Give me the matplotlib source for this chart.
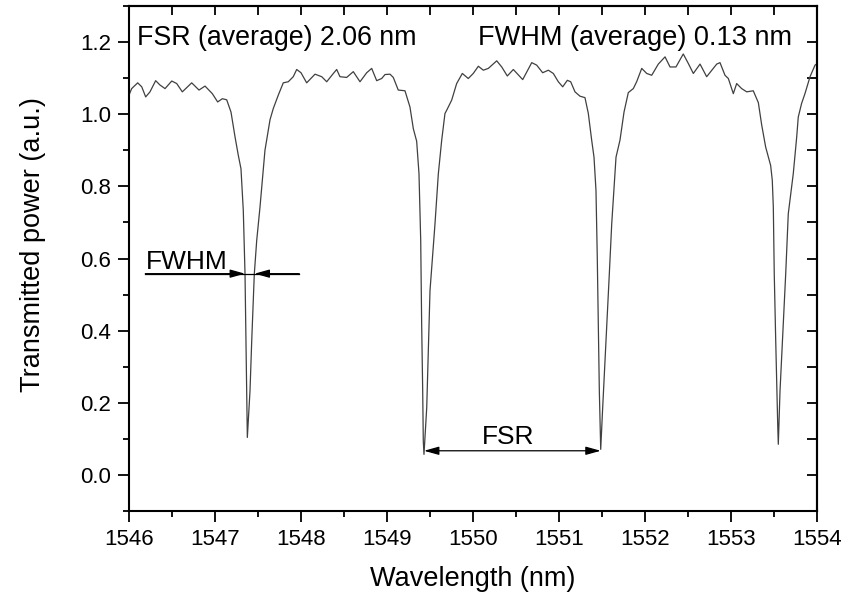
# transmission spectrum of the ring with FSR / FWHM marks

import numpy as np
import matplotlib.pyplot as plt
from matplotlib.ticker import MultipleLocator, FormatStrFormatter, NullFormatter

plt.rcParams['font.family'] = ['Liberation Sans', 'DejaVu Sans']

wavelength = [
    1546.000, 1546.031, 1546.101, 1546.148, 1546.194, 1546.244, 1546.310, 1546.360,
    1546.419, 1546.497, 1546.555, 1546.620, 1546.729, 1546.814, 1546.884, 1546.969,
    1547.031, 1547.085, 1547.136, 1547.186, 1547.233, 1547.271, 1547.302, 1547.329,
    1547.349, 1547.357, 1547.369, 1547.376, 1547.407, 1547.427, 1547.457, 1547.485,
    1547.523, 1547.581, 1547.640, 1547.678, 1547.736, 1547.794, 1547.852, 1547.910,
    1547.950, 1548.000, 1548.066, 1548.163, 1548.241, 1548.299, 1548.376, 1548.415,
    1548.453, 1548.531, 1548.608, 1548.686, 1548.764, 1548.822, 1548.880, 1548.938,
    1548.977, 1549.035, 1549.073, 1549.131, 1549.209, 1549.267, 1549.306, 1549.345,
    1549.372, 1549.392, 1549.403, 1549.415, 1549.422, 1549.430, 1549.462, 1549.500,
    1549.558, 1549.597, 1549.636, 1549.674, 1549.694, 1549.752, 1549.810, 1549.876,
    1549.945, 1550.003, 1550.062, 1550.120, 1550.178, 1550.276, 1550.334, 1550.399,
    1550.469, 1550.578, 1550.683, 1550.741, 1550.810, 1550.876, 1550.934, 1550.992,
    1551.043, 1551.097, 1551.136, 1551.186, 1551.244, 1551.302, 1551.341, 1551.380,
    1551.407, 1551.430, 1551.445, 1551.457, 1551.469, 1551.485, 1551.508, 1551.547,
    1551.585, 1551.613, 1551.663, 1551.709, 1551.756, 1551.806, 1551.864, 1551.903,
    1551.962, 1552.020, 1552.078, 1552.155, 1552.233, 1552.291, 1552.360, 1552.445,
    1552.503, 1552.562, 1552.640, 1552.717, 1552.764, 1552.834, 1552.872, 1552.930,
    1552.969, 1553.027, 1553.066, 1553.124, 1553.183, 1553.259, 1553.318, 1553.357,
    1553.403, 1553.461, 1553.480, 1553.492, 1553.503, 1553.520, 1553.543, 1553.550,
    1553.570, 1553.608, 1553.636, 1553.666, 1553.724, 1553.764, 1553.782, 1553.821,
    1553.860, 1553.919, 1553.977, 1554.000,
]
power = [
    1.053, 1.071, 1.087, 1.076, 1.048, 1.062, 1.093, 1.081,
    1.071, 1.092, 1.085, 1.062, 1.087, 1.067, 1.078, 1.057,
    1.034, 1.043, 1.040, 1.006, 0.937, 0.886, 0.849, 0.733,
    0.557, 0.420, 0.233, 0.104, 0.233, 0.372, 0.557, 0.650,
    0.742, 0.900, 0.985, 1.016, 1.053, 1.087, 1.090, 1.104,
    1.124, 1.115, 1.087, 1.111, 1.104, 1.090, 1.113, 1.124,
    1.104, 1.102, 1.118, 1.090, 1.115, 1.127, 1.093, 1.099,
    1.110, 1.111, 1.102, 1.067, 1.065, 1.020, 0.960, 0.925,
    0.835, 0.650, 0.419, 0.233, 0.094, 0.057, 0.187, 0.511,
    0.696, 0.835, 0.928, 1.002, 1.011, 1.039, 1.085, 1.113,
    1.099, 1.113, 1.133, 1.122, 1.127, 1.148, 1.131, 1.106,
    1.124, 1.096, 1.143, 1.136, 1.115, 1.122, 1.113, 1.090,
    1.076, 1.094, 1.090, 1.062, 1.050, 1.046, 1.002, 0.928,
    0.881, 0.789, 0.604, 0.419, 0.233, 0.071, 0.187, 0.372,
    0.557, 0.696, 0.881, 0.928, 1.006, 1.060, 1.071, 1.090,
    1.127, 1.113, 1.108, 1.139, 1.159, 1.131, 1.131, 1.167,
    1.141, 1.113, 1.139, 1.104, 1.118, 1.139, 1.143, 1.108,
    1.099, 1.057, 1.085, 1.071, 1.062, 1.065, 1.032, 0.970,
    0.909, 0.858, 0.817, 0.743, 0.557, 0.372, 0.141, 0.085,
    0.233, 0.419, 0.557, 0.724, 0.835, 0.937, 0.992, 1.030,
    1.057, 1.104, 1.136, 1.140,
]

# annotation marks
fwhm_y = 0.558
fwhm_left = (1546.19, 1547.349)   # tail, tip
fwhm_right = (1547.98, 1547.46)
fsr_y = 0.067
fsr_span = (1549.43, 1551.485)

fig = plt.figure(figsize=(8.6, 5.94), dpi=100)
ax = fig.add_axes([0.150, 0.1397, 0.800, 0.8502])

ax.plot(wavelength, power, color='#404040', lw=0.9)

ax.set_xlim(1546, 1554)
ax.set_ylim(-0.1, 1.3)
ax.xaxis.set_major_locator(MultipleLocator(1))
ax.xaxis.set_minor_locator(MultipleLocator(0.5))
ax.yaxis.set_major_locator(MultipleLocator(0.2))
ax.yaxis.set_minor_locator(MultipleLocator(0.1))
ax.yaxis.set_major_formatter(FormatStrFormatter('%.1f'))

ax.tick_params(which='major', direction='out', length=8, width=1.3, labelsize=16, pad=5)
ax.tick_params(which='minor', direction='out', length=4.5, width=1.3)
for s in ax.spines.values():
    s.set_linewidth(1.5)

# mirrored ticks pointing inwards
top = ax.secondary_xaxis('top')
top.xaxis.set_major_locator(MultipleLocator(0.5))
top.xaxis.set_major_formatter(NullFormatter())
top.tick_params(direction='in', length=6.5, width=1.3)
top.spines['top'].set_linewidth(1.5)
right = ax.secondary_yaxis('right')
right.yaxis.set_major_locator(MultipleLocator(0.1))
right.yaxis.set_major_formatter(NullFormatter())
right.tick_params(direction='in', length=7, width=1.3)
right.spines['right'].set_linewidth(1.5)

ax.set_xlabel('Wavelength (nm)', fontsize=19.5)
ax.set_ylabel('Transmitted power (a.u.)', fontsize=19.5)
ax.xaxis.set_label_coords(0.5, -0.109)
ax.yaxis.set_label_coords(-0.121, 0.527)

ax.text(1546.09, 1.192, 'FSR (average) 2.06 nm', fontsize=19.3, va='baseline')
ax.text(1550.06, 1.192, 'FWHM (average) 0.13 nm', fontsize=19.5, va='baseline')
ax.text(1546.20, 0.572, 'FWHM', fontsize=19, va='baseline')
ax.text(1550.10, 0.086, 'FSR', fontsize=19, va='baseline')

head = '-|>,head_length=0.9,head_width=0.25'
ax.plot([fwhm_left[0], fwhm_right[0]], [fwhm_y, fwhm_y], color='black', lw=0.9)
for tail, tip in (fwhm_left, fwhm_right):
    ax.annotate('', xy=(tip, fwhm_y), xytext=(tail, fwhm_y),
                arrowprops=dict(arrowstyle=head, color='black', lw=0.9,
                                shrinkA=0, shrinkB=0))
ax.annotate('', xy=(fsr_span[1], fsr_y), xytext=(fsr_span[0], fsr_y),
            arrowprops=dict(arrowstyle='<|-|>,head_length=0.9,head_width=0.25',
                            color='black', lw=0.9, shrinkA=0, shrinkB=0))

fig.savefig('out.png', dpi=100)
